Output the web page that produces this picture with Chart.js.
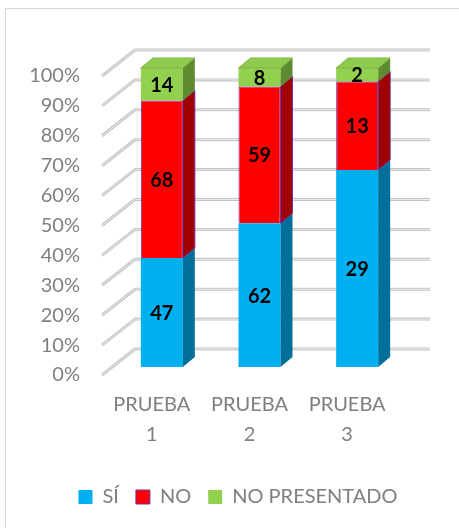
<!DOCTYPE html>
<html>
<head>
<meta charset="utf-8">
<script src="https://cdn.jsdelivr.net/npm/chart.js@4.4.1/dist/chart.umd.min.js"></script>
<style>
  html, body { margin: 0; padding: 0; background: #fff; }
  #wrap { width: 459px; height: 528px; }
</style>
</head>
<body>
<div id="wrap"><canvas id="pruebasChart" width="459" height="528"></canvas></div>
<script>
// Chart data
const categories = [['PRUEBA', '1'], ['PRUEBA', '2'], ['PRUEBA', '3']];
const seriesNames = ['SÍ', 'NO', 'NO PRESENTADO'];
const siCounts = [47, 62, 29];
const noCounts = [68, 59, 13];
const noPresentadoCounts = [14, 8, 2];

// 100% stacked: convert counts to share of each prueba
const totals = siCounts.map((v, i) => v + noCounts[i] + noPresentadoCounts[i]);
const toPct = arr => arr.map((v, i) => v / totals[i] * 100);
const counts = [siCounts, noCounts, noPresentadoCounts];

const frontColors = ['#00B0F0', '#FF0000', '#92D050'];
const sideColors = ['#00709B', '#A00000', '#5F8B30'];
const depthX = 12, depthY = 10;
const fontFamily = 'Lato, "Open Sans", sans-serif';

// draws the back wall grid, the 3D sides/tops and the value labels
const threeD = {
    id: 'threeD',
    afterLayout(chart) {
        // centre the legend under the plot like the original
        const lg = chart.legend;
        const shift = 238 - (lg.left + lg.right) / 2;
        lg.left += shift;
        lg.right += shift;
    },
    beforeDraw(chart) {
        const ctx = chart.ctx;
        ctx.save();
        ctx.strokeStyle = '#d9d9d9';
        ctx.lineWidth = 1;
        ctx.strokeRect(5.5, 8.5, 600, 600);
        ctx.restore();
    },
    beforeDatasetsDraw(chart) {
        const ctx = chart.ctx;
        const yScale = chart.scales.y;
        const area = chart.chartArea;
        ctx.save();
        yScale.ticks.forEach(t => {
            const py = yScale.getPixelForValue(t.value);
            const pts = [[area.left - 11, py + 8], [area.left + 22, py - 18], [area.right + 24, py - 18]];
            [['#c4c4c4', 3], ['#ececec', 1]].forEach(([c, w]) => {
                ctx.beginPath();
                ctx.moveTo(pts[0][0], pts[0][1]);
                ctx.lineTo(pts[1][0], pts[1][1]);
                ctx.lineTo(pts[2][0], pts[2][1]);
                ctx.strokeStyle = c;
                ctx.lineWidth = w;
                ctx.lineJoin = 'round';
                ctx.stroke();
            });
        });
        ctx.restore();
    },
    afterDatasetsDraw(chart) {
        const ctx = chart.ctx;
        const last = chart.data.datasets.length - 1;
        ctx.save();
        chart.data.datasets.forEach((ds, di) => {
            chart.getDatasetMeta(di).data.forEach(bar => {
                const L = bar.x - bar.width / 2, R = bar.x + bar.width / 2;
                // side face
                ctx.beginPath();
                ctx.moveTo(R, bar.y);
                ctx.lineTo(R + depthX, bar.y - depthY);
                ctx.lineTo(R + depthX, bar.base - depthY);
                ctx.lineTo(R, bar.base);
                ctx.closePath();
                ctx.fillStyle = sideColors[di];
                ctx.fill();
                if (di === 1) {
                    ctx.strokeStyle = '#7030A0';
                    ctx.lineWidth = 1;
                    ctx.stroke();
                }
                // top face on the upper segment
                if (di === last) {
                    ctx.beginPath();
                    ctx.moveTo(L, bar.y);
                    ctx.lineTo(L + depthX, bar.y - depthY);
                    ctx.lineTo(R + depthX, bar.y - depthY);
                    ctx.lineTo(R, bar.y);
                    ctx.closePath();
                    ctx.fillStyle = '#8FCB4E';
                    ctx.fill();
                    ctx.strokeStyle = '#7FB444';
                    ctx.stroke();
                }
            });
        });
        // value labels (raw counts)
        ctx.fillStyle = '#000';
        ctx.font = 'bold 20px ' + fontFamily;
        ctx.textAlign = 'center';
        ctx.textBaseline = 'middle';
        chart.data.datasets.forEach((ds, di) => {
            chart.getDatasetMeta(di).data.forEach((bar, i) => {
                ctx.fillText(String(counts[di][i]), bar.x, (bar.y + bar.base) / 2 + 1);
            });
        });
        ctx.restore();
    }
};

const ctx = document.getElementById('pruebasChart').getContext('2d');
const pruebasChart = new Chart(ctx, {
    type: 'bar',
    data: {
        labels: categories,
        datasets: [
            { label: seriesNames[0], data: toPct(siCounts), backgroundColor: frontColors[0], borderWidth: 0 },
            { label: seriesNames[1], data: toPct(noCounts), backgroundColor: frontColors[1], borderColor: '#7030A0', borderWidth: 1 },
            { label: seriesNames[2], data: toPct(noPresentadoCounts), backgroundColor: frontColors[2], borderWidth: 0 }
        ]
    },
    options: {
        responsive: false,
        animation: false,
        devicePixelRatio: 1,
        layout: { padding: { top: 68, left: 5, right: 53, bottom: 11 } },
        datasets: { bar: { categoryPercentage: 1, barPercentage: 0.43 } },
        scales: {
            x: {
                stacked: true,
                grid: { display: false, drawTicks: false, tickLength: 0 },
                border: { display: false },
                afterFit(scale) { scale.height = 103; },
                ticks: {
                    padding: 23,
                    labelOffset: -10,
                    maxRotation: 0,
                    color: '#7f7f7f',
                    font: { family: fontFamily, size: 20, lineHeight: 1.5 }
                }
            },
            y: {
                stacked: true,
                min: 0,
                max: 100,
                grid: { display: false, drawTicks: false, tickLength: 0 },
                border: { display: false },
                afterFit(scale) { scale.width = 108; },
                ticks: {
                    stepSize: 10,
                    autoSkip: false,
                    padding: 33,
                    labelOffset: 8,
                    color: '#7f7f7f',
                    font: { family: fontFamily, size: 20 },
                    callback: v => v + '%'
                }
            }
        },
        plugins: {
            legend: {
                position: 'bottom',
                labels: {
                    boxWidth: 14,
                    boxHeight: 14,
                    padding: 17,
                    color: '#7f7f7f',
                    font: { family: fontFamily, size: 20 }
                }
            },
            tooltip: { enabled: false }
        }
    },
    plugins: [threeD]
});
</script>
</body>
</html>
